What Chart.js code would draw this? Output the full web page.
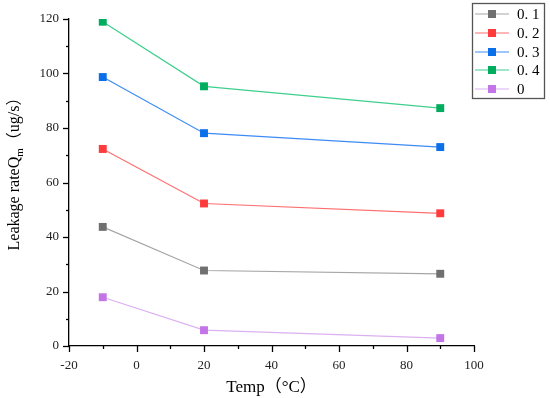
<!DOCTYPE html>
<html>
<head>
<meta charset="utf-8">
<script src="https://cdn.jsdelivr.net/npm/chart.js@4/dist/chart.umd.min.js"></script>
<style>
  html, body { margin: 0; padding: 0; background: #fff; }
  #wrap { width: 550px; height: 398px; }
</style>
</head>
<body>
<div id="wrap"><canvas id="grafico" width="550" height="398"></canvas></div>
<script>
// temperatures (°C)
const temps = [-10, 20, 90];
// leakage rate series, one per label
const seriesLabels = ['0. 1', '0. 2', '0. 3', '0. 4', '0'];
const s01 = [43.7, 27.7, 26.5];
const s02 = [72.3, 52.3, 48.7];
const s03 = [98.7, 78.1, 73.0];
const s04 = [119.0, 95.3, 87.3];
const s0 = [17.9, 5.8, 2.9];
const xTicks = [-20, 0, 20, 40, 60, 80, 100];
const yTicks = [0, 20, 40, 60, 80, 100, 120];

const serif = '"Liberation Serif", "Noto Sans CJK SC", serif';
const lineColors = ['#a6a6a6', '#ff6e6e', '#3d8bf5', '#3fcf8e', '#dcb0f2'];
const markColors = ['#707070', '#ff3b3b', '#0a6fe8', '#00ad5f', '#c374e6'];
const allSeries = [s01, s02, s03, s04, s0];

const datasets = allSeries.map((vals, i) => ({
  label: seriesLabels[i],
  data: temps.map((t, j) => ({ x: t, y: vals[j] })),
  borderColor: lineColors[i],
  borderWidth: 1.2,
  pointStyle: 'rect',
  pointRadius: 5.6,
  pointHoverRadius: 5.6,
  pointBackgroundColor: markColors[i],
  pointBorderColor: markColors[i],
  pointBorderWidth: 0,
  tension: 0
}));

// ticks, titles and legend box
const extras = {
  id: 'extras',
  afterDraw(chart) {
    const ctx = chart.ctx;
    const xs = chart.scales.x, ys = chart.scales.y;
    const area = chart.chartArea;
    ctx.save();
    ctx.strokeStyle = '#000';
    ctx.lineWidth = 1.3;
    // x ticks (major every 20, minor every 10)
    for (let v = -20; v <= 100; v += 10) {
      const px = Math.round(xs.getPixelForValue(v)) + 0.5;
      const len = v % 20 === 0 ? 6 : 3;
      ctx.beginPath();
      ctx.moveTo(px, area.bottom);
      ctx.lineTo(px, area.bottom + len);
      ctx.stroke();
    }
    for (let v = 0; v <= 120; v += 10) {
      const py = Math.round(ys.getPixelForValue(v)) + 0.5;
      const len = v % 20 === 0 ? 6 : 3;
      ctx.beginPath();
      ctx.moveTo(area.left, py);
      ctx.lineTo(area.left - len, py);
      ctx.stroke();
    }
    // y title with subscript
    ctx.fillStyle = '#000';
    ctx.translate(15, 170);
    ctx.rotate(-Math.PI / 2);
    const big = '16px ' + serif, small = '11px ' + serif;
    const p1 = 'Leakage rateQ', p2 = 'm', p3 = '（ug/s）';
    ctx.font = big; const w1 = ctx.measureText(p1).width;
    ctx.font = small; const w2 = ctx.measureText(p2).width;
    ctx.font = big; const w3 = ctx.measureText(p3).width;
    let x0 = -(w1 + w2 + w3) / 2;
    ctx.textBaseline = 'middle';
    ctx.font = big; ctx.fillText(p1, x0, 0); x0 += w1;
    ctx.font = small; ctx.fillText(p2, x0, 5); x0 += w2;
    ctx.font = big; ctx.fillText(p3, x0, 0);
    ctx.restore();

    // legend
    ctx.save();
    ctx.strokeStyle = '#555';
    ctx.lineWidth = 1.3;
    ctx.strokeRect(472.5, 3.5, 72, 95);
    const rowY = [14, 33, 52, 70, 89];
    ctx.font = '15px ' + serif;
    ctx.textBaseline = 'middle';
    chart.data.datasets.forEach((ds, i) => {
      const y = rowY[i];
      ctx.strokeStyle = ds.borderColor;
      ctx.lineWidth = 1.2;
      ctx.beginPath();
      ctx.moveTo(475, y);
      ctx.lineTo(509, y);
      ctx.stroke();
      ctx.fillStyle = ds.pointBackgroundColor;
      ctx.fillRect(488, y - 4, 8, 8);
      ctx.fillStyle = '#000';
      ctx.fillText(ds.label, 517, y + 1);
    });
    ctx.restore();
  }
};

new Chart(document.getElementById('grafico'), {
  type: 'line',
  data: { datasets },
  options: {
    responsive: false,
    animation: false,
    layout: { padding: { left: 0, top: 19, right: 76, bottom: 0 } },
    plugins: { legend: { display: false }, tooltip: { enabled: false } },
    scales: {
      x: {
        type: 'linear',
        min: -20, max: 100,
        afterBuildTicks: s => { s.ticks = xTicks.map(v => ({ value: v })); },
        afterFit: s => { s.height = 52; },
        grid: { display: false, drawTicks: false },
        border: { display: true, color: '#000', width: 1.3 },
        ticks: { color: '#222', padding: 12, font: { family: serif, size: 13 } },
        title: { display: true, text: 'Temp（°C）', color: '#000', font: { family: serif, size: 17 }, padding: { top: 4, bottom: 0 } }
      },
      y: {
        min: 0, max: 120,
        afterBuildTicks: s => { s.ticks = yTicks.map(v => ({ value: v })); },
        afterFit: s => { s.width = 69; },
        grid: { display: false, drawTicks: false },
        border: { display: true, color: '#000', width: 1.3 },
        ticks: { color: '#222', padding: 10, font: { family: serif, size: 13 } }
      }
    }
  },
  plugins: [extras]
});
</script>
</body>
</html>
